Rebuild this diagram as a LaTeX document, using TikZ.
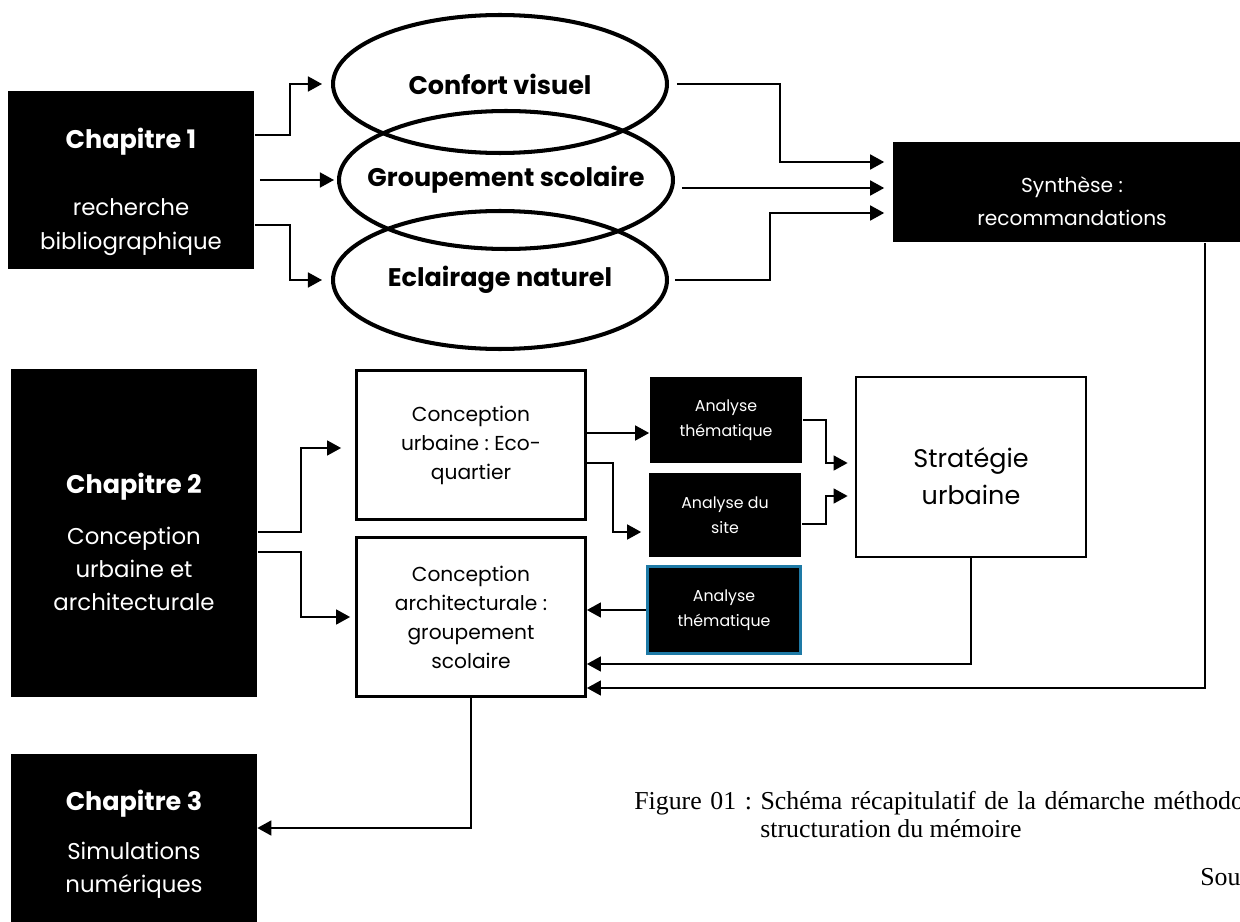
\documentclass[tikz,border=0pt]{standalone}
\usepackage{fontspec}
\setmainfont{Poppins}
\newfontfamily\capfont{Liberation Serif}
\usetikzlibrary{shapes.geometric,arrows.meta}
\definecolor{edgeblue}{RGB}{30,122,166}
\newcommand{\sztitle}{\fontsize{14.5pt}{17pt}\selectfont}
\newcommand{\szchap}{\fontsize{13pt}{19pt}\selectfont}
\newcommand{\szmid}{\fontsize{11.5pt}{16.5pt}\selectfont}
\newcommand{\szsynth}{\fontsize{11.5pt}{19pt}\selectfont}
\newcommand{\szstrat}{\fontsize{14.5pt}{21pt}\selectfont}
\newcommand{\szsmall}{\fontsize{9pt}{14pt}\selectfont}
\newcommand{\szcap}{\fontsize{14.7pt}{16pt}\selectfont\capfont}
\frenchspacing

\begin{document}
\begin{tikzpicture}[x=0.02cm,y=-0.02cm,
    blk/.style={fill=black,text=white,inner sep=0pt,align=center},
    wbox/.style={draw,line width=1.6pt,fill=white,inner sep=0pt,align=center},
    oval/.style={ellipse,draw,line width=2.3pt,inner xsep=-0.5cm,inner ysep=0pt,minimum width=6.68cm,minimum height=2.76cm,font=\sztitle\bfseries},
    link/.style={line width=1.1pt},
    arr/.style={link,-{Triangle[length=8pt,width=8.5pt]}}]
    \useasboundingbox (0,0) rectangle (1240,922);
    \clip (0,0) rectangle (1240,922);

    % chapitres
    \node[blk,minimum width=4.94cm,minimum height=3.56cm] (ch1) at (131,180) {};
    \node[text=white,font=\sztitle\bfseries] (ch1t) at (131,142) {Chapitre 1};
    \node[text=white,font=\szchap,align=center] (ch1b) at (131,227) {recherche\\bibliographique};
    \node[blk,minimum width=4.94cm,minimum height=6.56cm] (ch2) at (134,533) {};
    \node[text=white,font=\sztitle\bfseries] (ch2t) at (134,487) {Chapitre 2};
    \node[text=white,font=\szchap,align=center] (ch2b) at (134,569) {Conception\\urbaine et\\architecturale};
    \node[blk,minimum width=4.92cm,minimum height=3.92cm] (ch3) at (134,852) {};
    \node[text=white,font=\sztitle\bfseries] (ch3t) at (134,804) {Chapitre 3};
    \node[text=white,font=\szchap,align=center] (ch3b) at (134,870) {Simulations\\numériques};

    % themes
    \node[oval] (conf) at (500,84) {Confort visuel};
    \node[oval] (grp) at (506,180) {Groupement scolaire};
    \node[oval] (ecl) at (500,280) {Eclairage naturel};
    \node[blk,minimum width=7.34cm,minimum height=2.02cm] (synth) at (1076,192) {};
    \node[text=white,font=\szsynth,align=center] (synthtxt) at (1072,201) {Synthèse :\\recommandations};

    % conception
    \node[wbox,minimum width=4.58cm,minimum height=2.98cm,font=\szmid] (cu) at (471,445) {Conception\\urbaine : Eco-\\quartier};
    \node[wbox,minimum width=4.58cm,minimum height=3.18cm,font=\szmid] (ca) at (471,617) {Conception\\architecturale :\\groupement\\scolaire};
    \node[blk,minimum width=3.06cm,minimum height=1.72cm,font=\szsmall] (ath1) at (726,420) {Analyse\\thématique};
    \node[blk,minimum width=3.06cm,minimum height=1.70cm,font=\szsmall] (asite) at (725,515) {Analyse du\\site};
    \node[blk,draw=edgeblue,line width=1.6pt,minimum width=3.06cm,minimum height=1.74cm,font=\szsmall] (ath2) at (724,610) {Analyse\\thématique};
    \node[wbox,minimum width=4.6cm,minimum height=3.6cm] (strat) at (971,467) {};
    \node[font=\szstrat,align=center] (strattxt) at (971,476) {Stratégie\\urbaine};

    % fleches
    \draw[arr,shorten >=0.18cm] (ch1.east |- 0,135) -- (290,135) |- (conf.west);
    \draw[arr,shorten <=0.1cm,shorten >=0.06cm] (ch1.east |- grp.west) -- (grp.west);
    \draw[arr,shorten >=0.18cm] (ch1.east |- 0,225) -- (290,225) |- (ecl.west);
    \draw[arr,shorten <=0.16cm,shorten >=0.16cm] (conf.east) -| (780,162) -- (synth.west |- 0,162);
    \draw[arr,shorten <=0.14cm,shorten >=0.16cm] (grp.east |- 0,188) -- (synth.west |- 0,188);
    \draw[arr,shorten <=0.12cm,shorten >=0.16cm] (ecl.east) -| (770,213) -- (synth.west |- 0,213);
    \draw[arr,shorten >=0.28cm] (ch2.east |- 0,532) -- (301,532) |- (cu.west |- 0,448);
    \draw[arr,shorten >=0.1cm] (ch2.east |- 0,552) -- (301,552) |- (ca.west |- 0,617);
    \draw[arr] (cu.east |- 0,433) -- (ath1.west |- 0,433);
    \draw[arr,shorten >=0.14cm] (cu.east |- 0,463) -- (613,463) |- (asite.west |- 0,532);
    \draw[arr,shorten >=0.14cm] (ath1.east) -- (826,420) |- (strat.west |- 0,463);
    \draw[arr,shorten >=0.14cm] (asite.east |- 0,524) -- (826,524) |- (strat.west |- 0,496);
    \draw[arr] (ath2.west) -- (ca.east |- ath2.west);
    \draw[arr] (strat.south) |- (ca.east |- 0,664);
    \draw[arr] (synth.south -| 1205,0) |- (ca.east |- 0,688);
    \draw[arr] (ca.south) |- (ch3.east |- 0,828);

    % legende
    \node[anchor=west,font=\szcap,inner sep=0pt] (cap1) at (634,803) {\spaceskip=4.9pt Figure 01 : Schéma récapitulatif de la démarche méthodologique};
    \node[anchor=west,font=\szcap,inner sep=0pt] (cap2) at (760,829) {structuration du mémoire};
    \node[anchor=west,font=\szcap,inner sep=0pt] (cap3) at (1200,877) {Source};
\end{tikzpicture}
\end{document}
